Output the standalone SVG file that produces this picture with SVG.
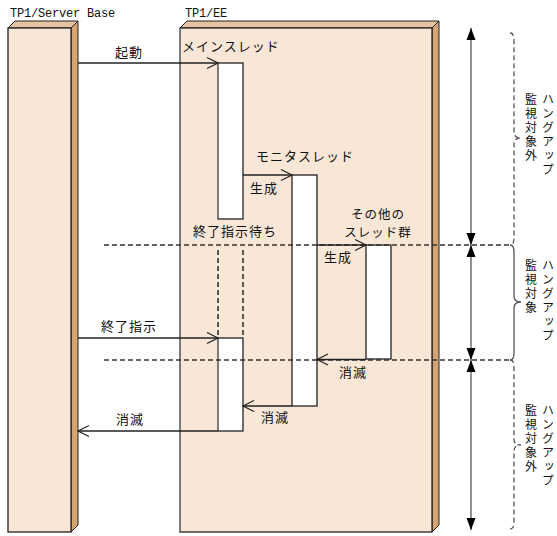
<svg xmlns="http://www.w3.org/2000/svg" width="557" height="536" viewBox="0 0 557 536">
<style>
.front{fill:#f8e6d6;stroke:#222;stroke-width:1.3}
.top{fill:#e6c3a0;stroke:#222;stroke-width:1}
.side{fill:#d6a472;stroke:#222;stroke-width:1}
.bar{fill:#fff;stroke:#222;stroke-width:1.3}
.gray{stroke:#808080;stroke-width:1.5;fill:none}
.mono{font-family:"Liberation Mono","DejaVu Sans Mono",monospace;font-size:12px;letter-spacing:-0.2px;fill:#111}
.jp{font-family:"Noto Sans CJK JP","Noto Sans",sans-serif;font-size:13px;letter-spacing:1px;fill:#111}
.jps{font-family:"Noto Sans CJK JP","Noto Sans",sans-serif;font-size:12.5px;letter-spacing:1px;fill:#111}
.vt{font-family:"Noto Sans CJK JP","Noto Sans",sans-serif;font-size:12px;letter-spacing:2px;fill:#111;writing-mode:vertical-rl}
.ln{stroke:#222;stroke-width:1.3;fill:none}
.dash{stroke:#333;stroke-width:1.6;stroke-dasharray:5 3;fill:none}
.varr{stroke:#555;stroke-width:1.3;fill:none}
.brace{stroke:#555;stroke-width:1.3;fill:none}
.braced{stroke:#555;stroke-width:1.3;fill:none;stroke-dasharray:5 3}
</style>
<defs>
<marker id="open" markerUnits="userSpaceOnUse" markerWidth="14" markerHeight="12" refX="11" refY="5.5" orient="auto" overflow="visible">
<path d="M0,0 L11,5.5 L0,11" fill="none" stroke="#222" stroke-width="1.2"/>
</marker>
<marker id="solid" markerUnits="userSpaceOnUse" markerWidth="14" markerHeight="10" refX="12" refY="4.5" orient="auto-start-reverse" overflow="visible">
<path d="M0,0 L12,4.5 L0,9 z" fill="#000"/>
</marker>
</defs>
<rect width="557" height="536" fill="#fff"/>

<g id="server-base">
<polygon class="top" points="8,28 15,21 78,21 71,28"/>
<polygon class="side" points="71,28 78,21 78,525 71,532"/>
<rect class="front" x="8" y="28" width="63" height="504"/>
<text class="mono" x="10" y="17">TP1/Server Base</text>
</g>

<g id="tp1-ee">
<polygon class="top" points="180,28 187,21 439,21 432,28"/>
<polygon class="side" points="432,28 439,21 439,525 432,532"/>
<rect class="front" x="180" y="28" width="252" height="504"/>
<line class="gray" x1="180" y1="28.5" x2="180" y2="531.5"/>
<text class="mono" x="185" y="17">TP1/EE</text>
</g>

<g id="main-thread">
<rect class="bar" x="218" y="63" width="25" height="156"/>
<line class="gray" x1="218" y1="63.5" x2="218" y2="218.5"/>
<text class="jp" x="182" y="50.5">メインスレッド</text>
</g>

<g id="main-thread-wait">
<line class="dash" x1="218" y1="250" x2="218" y2="338"/>
<line class="dash" x1="243" y1="250" x2="243" y2="338"/>
<text class="jp" x="193" y="236">終了指示待ち</text>
</g>

<g id="main-thread-end">
<rect class="bar" x="218" y="338" width="25" height="93"/>
<line class="gray" x1="218" y1="338.5" x2="218" y2="430.5"/>
</g>

<g id="monitor-thread">
<rect class="bar" x="292" y="175" width="25" height="231"/>
<text class="jp" x="256" y="161">モニタスレッド</text>
</g>

<g id="other-threads">
<rect class="bar" x="366" y="245" width="25" height="114"/>
<text class="jps" x="378" y="219" text-anchor="middle">その他の</text>
<text class="jps" x="378" y="237" text-anchor="middle">スレッド群</text>
</g>

<g id="connectors">
<line class="dash" x1="104" y1="245" x2="510" y2="245"/>
<line class="dash" x1="104" y1="360" x2="510" y2="360"/>

<line class="ln" x1="78" y1="63" x2="218" y2="63" marker-end="url(#open)"/>
<text class="jp" x="115" y="57">起動</text>

<line class="ln" x1="243" y1="175" x2="292" y2="175" marker-end="url(#open)"/>
<text class="jp" x="250" y="193">生成</text>

<line class="ln" x1="317" y1="245" x2="366" y2="245" marker-end="url(#open)"/>
<text class="jp" x="324" y="262">生成</text>

<line class="ln" x1="78" y1="338" x2="218" y2="338" marker-end="url(#open)"/>
<text class="jp" x="101" y="331">終了指示</text>

<line class="ln" x1="366" y1="359.5" x2="317" y2="359.5" marker-end="url(#open)"/>
<text class="jp" x="339" y="377">消滅</text>

<line class="ln" x1="292" y1="406" x2="243" y2="406" marker-end="url(#open)"/>
<text class="jp" x="261" y="422">消滅</text>

<line class="ln" x1="218" y1="431" x2="78" y2="431" marker-end="url(#open)"/>
<text class="jp" x="116" y="424">消滅</text>

<line class="varr" x1="471" y1="28" x2="471" y2="245" marker-start="url(#solid)" marker-end="url(#solid)"/>
<line class="varr" x1="471" y1="245" x2="471" y2="360" marker-start="url(#solid)" marker-end="url(#solid)"/>
<line class="varr" x1="471" y1="360" x2="471" y2="530" marker-start="url(#solid)" marker-end="url(#solid)"/>

<path class="braced" d="M510,33 Q514,33 514,40 L514,132 Q514,138 521,138 Q514,138 514,144 L514,238 Q514,245 510,245"/>
<path class="brace" d="M510,245 Q514,245 514,252 L514,296 Q514,302 521,302 Q514,302 514,308 L514,353 Q514,360 510,360"/>
<path class="braced" d="M510,360 Q514,360 514,367 L514,439 Q514,445 521,445 Q514,445 514,451 L514,522 Q514,529 510,529"/>
</g>

<g id="labels-right">
<text class="vt" x="548" y="93">ハングアップ</text>
<text class="vt" x="531" y="93">監視対象外</text>
<text class="vt" x="548" y="259">ハングアップ</text>
<text class="vt" x="531" y="259">監視対象</text>
<text class="vt" x="548" y="404">ハングアップ</text>
<text class="vt" x="531" y="404">監視対象外</text>
</g>
</svg>
